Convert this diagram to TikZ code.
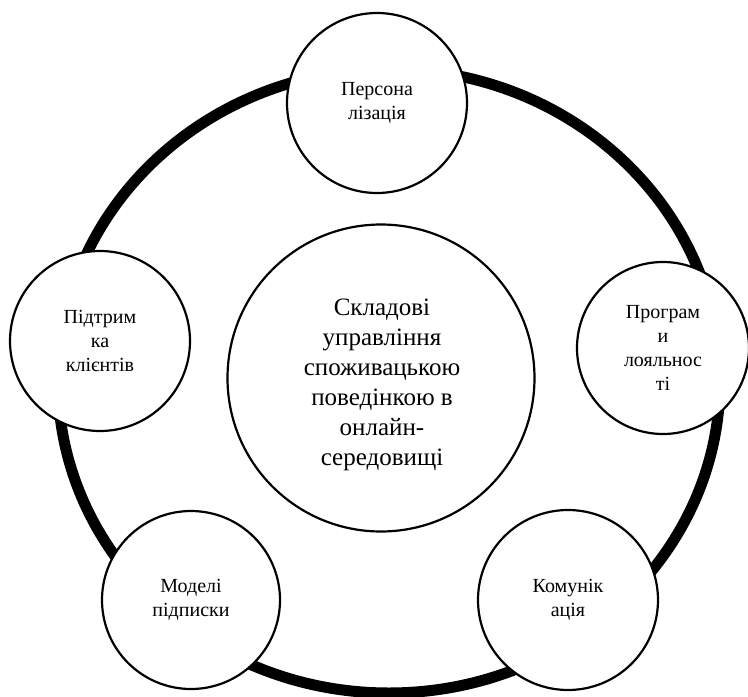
\documentclass[tikz,border=0pt]{standalone}
\usepackage{fontspec}
\setmainfont{Liberation Serif}
\newfontfamily\tnrfont{Liberation Serif}
\begin{document}
\begin{tikzpicture}[x=1pt,y=-1pt,
  comp/.style={circle,draw,line width=2.2pt,fill=white,inner sep=0pt,minimum size=180pt,align=center,font=\tnrfont\fontsize{20}{24}\selectfont},
  hub/.style={circle,draw,line width=2.2pt,fill=white,minimum size=307pt,inner sep=0pt},
  hubtext/.style={align=center,inner sep=0pt,font=\tnrfont\fontsize{25}{30}\selectfont},
  ring/.style={line width=11pt}]
\useasboundingbox (0,0) rectangle (748,697);
\clip (0,0) rectangle (748,697);
\draw[ring] (389,381) ellipse [x radius=331pt, y radius=312pt];
\node[hub] (hub) at (381,378) {};
\node[hubtext] (hubtxt) at (382,385) {Складові\\управління\\споживацькою\\поведінкою в\\онлайн-\\середовищі};
\node[comp] (pers) at (377,103) {Персона\\лізація};
\node[comp] (supp) at (100,341) {Підтрим\\ка\\клієнтів};
\node[comp,minimum size=172pt] (loy) at (663,348) {Програм\\и\\лояльнос\\ті};
\node[comp,minimum size=178pt] (subs) at (191,600) {Моделі\\підписки};
\node[comp] (comm) at (568,600) {Комунік\\ація};
\end{tikzpicture}
\end{document}
